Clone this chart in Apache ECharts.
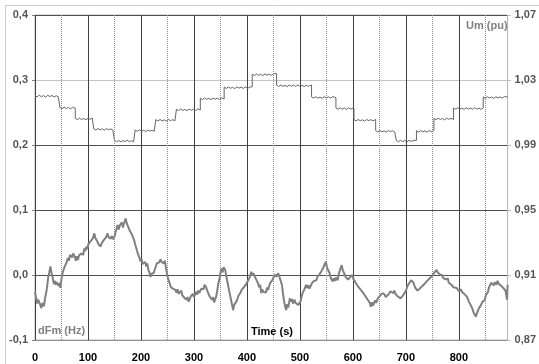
<!DOCTYPE html>
<html>
<head>
<meta charset="utf-8">
<script src="https://cdn.jsdelivr.net/npm/echarts@6/dist/echarts.min.js"></script>
<style>html,body{margin:0;padding:0;background:#fff}#c{width:539px;height:364px}</style>
</head>
<body>
<div id="c"></div>
<script>
// ---- data ----
var leftTickLabels = ['-0,1','0,0','0,1','0,2','0,3','0,4'];
var rightTickLabels = ['0,87','0,91','0,95','0,99','1,03','1,07'];
var dottedTimes = [50,150,250,350,450,550,650,750,850];

// Um (pu), right axis
var umData = [
[0,1.0205],[4,1.0196],[8,1.0207],[12,1.0197],[16,1.0204],[20,1.0194],[24,1.0206],[28,1.0198],[32,1.0205],[36,1.0195],[40,1.0203],[44,1.0197],[47,1.0204],
[47,1.0132],[51,1.0123],[55,1.0133],[59,1.0125],[63,1.0131],[67,1.0122],[71,1.0132],[76,1.0126],
[76,1.0064],[80,1.0056],[84,1.0065],[88,1.0057],[92,1.0063],[96,1.0055],[100,1.0064],[104,1.0058],[108,1.0066],[111,1.0057],
[111,1.0000],[115,0.9992],[119,1.0002],[123,0.9993],[127,1.0000],[131,0.9991],[135,1.0001],[139,0.9994],[143,0.9999],[147,0.9991],[150,0.9998],
[150,0.9929],[154,0.9920],[158,0.9928],[162,0.9919],[166,0.9927],[170,0.9921],[174,0.9930],[178,0.9920],[182,0.9927],[186,0.9919],[189,0.9928],
[189,0.9992],[193,0.9984],[197,0.9993],[201,0.9985],[205,0.9991],[209,0.9983],[213,0.9992],[217,0.9985],[221,0.9991],[225,0.9984],[228,0.9992],
[228,1.0056],[232,1.0048],[236,1.0057],[240,1.0049],[244,1.0055],[248,1.0047],[252,1.0057],[256,1.0050],[260,1.0056],[264,1.0048],[267,1.0058],
[267,1.0120],[271,1.0112],[275,1.0121],[279,1.0113],[283,1.0119],[287,1.0111],[291,1.0121],[295,1.0114],[299,1.0120],[303,1.0112],[307,1.0122],[312,1.0115],
[312,1.0188],[316,1.0180],[320,1.0189],[324,1.0181],[328,1.0187],[332,1.0179],[336,1.0189],[340,1.0182],[344,1.0188],[348,1.0180],[352,1.0190],[357,1.0183],
[357,1.0256],[361,1.0248],[365,1.0257],[369,1.0249],[373,1.0255],[377,1.0247],[381,1.0257],[385,1.0250],[389,1.0256],[393,1.0248],[397,1.0258],[401,1.0249],[405,1.0255],[410,1.0259],
[410,1.0336],[414,1.0328],[418,1.0337],[422,1.0329],[426,1.0335],[430,1.0327],[434,1.0337],[438,1.0330],[442,1.0336],[446,1.0328],[450,1.0338],[453,1.0329],[456,1.0340],
[456,1.0268],[460,1.0260],[464,1.0269],[468,1.0261],[472,1.0267],[476,1.0259],[480,1.0269],[484,1.0262],[488,1.0268],[492,1.0260],[496,1.0270],[500,1.0261],[504,1.0267],[508,1.0259],[512,1.0268],[516,1.0261],[522,1.0269],
[522,1.0196],[526,1.0188],[530,1.0197],[534,1.0189],[538,1.0195],[542,1.0187],[546,1.0197],[550,1.0190],[554,1.0196],[558,1.0188],[562,1.0198],[568,1.0191],
[568,1.0128],[572,1.0120],[576,1.0129],[580,1.0121],[584,1.0127],[588,1.0119],[592,1.0129],[596,1.0122],[602,1.0128],
[602,1.0056],[606,1.0048],[610,1.0057],[614,1.0049],[618,1.0055],[622,1.0047],[626,1.0057],[630,1.0050],[634,1.0056],[638,1.0048],[643,1.0057],
[643,0.9988],[647,0.9980],[651,0.9989],[655,0.9981],[659,0.9987],[663,0.9979],[667,0.9989],[671,0.9982],[675,0.9988],[679,0.9980],[682,0.9989],
[682,0.9928],[686,0.9920],[690,0.9929],[694,0.9921],[698,0.9927],[702,0.9919],[706,0.9929],[710,0.9922],[714,0.9928],[717,0.9920],[720,0.9929],
[720,0.9988],[724,0.9980],[728,0.9989],[732,0.9981],[736,0.9987],[740,0.9979],[744,0.9989],[748,0.9982],[753,0.9988],
[753,1.0064],[757,1.0056],[761,1.0065],[765,1.0057],[769,1.0063],[773,1.0055],[777,1.0065],[781,1.0058],[785,1.0064],[790,1.0057],
[790,1.0128],[794,1.0120],[798,1.0129],[802,1.0121],[806,1.0127],[810,1.0119],[814,1.0129],[818,1.0122],[822,1.0128],[826,1.0120],[830,1.0130],[834,1.0121],[838,1.0127],[842,1.0119],[846,1.0128],
[846,1.0196],[850,1.0188],[854,1.0197],[858,1.0189],[862,1.0195],[866,1.0187],[870,1.0197],[874,1.0190],[878,1.0196],[882,1.0188],[886,1.0198],[889,1.0189],[892,1.0195]
];

// dFm (Hz), left axis
var dfmData = [
[0,-0.026],[2,-0.034],[4,-0.044],[6,-0.038],[8,-0.036],[10,-0.046],[12,-0.051],[14,-0.043],[17,-0.048],[19,-0.036],
[22,-0.023],[24,-0.010],[25,-0.003],[27,0.004],[29,0.013],[31,0.004],[33,-0.002],[34,-0.008],[36,-0.014],[38,-0.009],
[39,-0.015],[41,-0.011],[43,-0.010],[45,-0.017],[47,-0.012],[48,-0.020],[50,-0.006],[52,0.003],[54,0.008],[56,0.013],
[58,0.010],[60,0.020],[62,0.026],[64,0.022],[66,0.031],[68,0.034],[70,0.027],[72,0.033],[75,0.028],[77,0.022],
[79,0.029],[81,0.023],[83,0.030],[85,0.027],[87,0.033],[89,0.036],[91,0.031],[93,0.041],[95,0.037],[97,0.044],
[99,0.040],[101,0.048],[103,0.045],[105,0.052],[107,0.049],[109,0.056],[111,0.058],[112,0.064],[114,0.057],[116,0.055],
[118,0.051],[120,0.047],[122,0.050],[124,0.044],[126,0.049],[128,0.047],[130,0.054],[132,0.051],[134,0.058],[137,0.064],
[139,0.058],[141,0.061],[143,0.056],[145,0.060],[147,0.055],[150,0.059],[152,0.066],[154,0.071],[156,0.077],[158,0.070],
[160,0.076],[162,0.074],[164,0.081],[166,0.073],[167,0.077],[169,0.082],[171,0.087],[173,0.080],[175,0.076],[177,0.074],
[179,0.068],[181,0.069],[183,0.062],[185,0.058],[187,0.054],[189,0.047],[191,0.042],[193,0.036],[195,0.031],[197,0.027],
[199,0.021],[201,0.025],[203,0.017],[206,0.015],[208,0.020],[210,0.013],[212,0.018],[214,0.008],[216,0.004],[218,-0.003],
[220,0.002],[222,-0.001],[224,0.003],[226,0.008],[228,0.013],[230,0.018],[232,0.021],[234,0.019],[237,0.024],[239,0.020],
[241,0.023],[243,0.018],[245,0.022],[247,0.012],[248,0.010],[250,-0.002],[252,-0.008],[254,-0.012],[256,-0.018],[258,-0.015],
[260,-0.021],[263,-0.019],[265,-0.023],[267,-0.027],[269,-0.022],[271,-0.029],[274,-0.028],[276,-0.024],[278,-0.031],[280,-0.028],
[282,-0.035],[284,-0.033],[286,-0.038],[288,-0.034],[290,-0.041],[292,-0.037],[294,-0.033],[296,-0.036],[298,-0.029],[300,-0.034],
[302,-0.031],[304,-0.026],[306,-0.030],[308,-0.024],[310,-0.028],[312,-0.026],[314,-0.021],[316,-0.018],[318,-0.022],[320,-0.015],
[321,-0.013],[323,-0.019],[325,-0.024],[327,-0.028],[329,-0.032],[331,-0.029],[334,-0.038],[336,-0.034],[338,-0.042],[340,-0.044],
[342,-0.033],[344,-0.024],[346,-0.013],[348,-0.007],[350,0.003],[352,0.010],[354,0.004],[356,0.012],[359,0.008],[361,-0.002],
[363,-0.010],[365,-0.018],[367,-0.026],[369,-0.034],[371,-0.042],[373,-0.050],[374,-0.054],[376,-0.046],[378,-0.049],[380,-0.041],
[382,-0.037],[384,-0.032],[386,-0.034],[388,-0.027],[390,-0.023],[392,-0.026],[394,-0.019],[396,-0.021],[398,-0.015],[400,-0.013],
[402,-0.009],[404,-0.011],[406,-0.002],[408,0.005],[410,-0.001],[412,0.003],[415,0.000],[417,-0.006],[419,-0.004],[421,-0.013],
[423,-0.019],[425,-0.015],[427,-0.028],[429,-0.022],[431,-0.026],[434,-0.023],[436,-0.027],[438,-0.019],[440,-0.023],[442,-0.017],
[444,-0.012],[446,-0.015],[448,-0.008],[450,-0.004],[452,-0.007],[454,0.001],[456,-0.003],[459,0.003],[461,-0.002],[464,-0.003],
[466,-0.015],[468,-0.028],[470,-0.040],[472,-0.048],[474,-0.054],[476,-0.045],[478,-0.050],[481,-0.036],[483,-0.041],[485,-0.037],
[487,-0.044],[490,-0.038],[492,-0.043],[494,-0.040],[497,-0.046],[499,-0.049],[501,-0.041],[503,-0.034],[505,-0.028],[507,-0.030],
[509,-0.021],[512,-0.015],[514,-0.020],[516,-0.016],[518,-0.021],[521,-0.018],[523,-0.012],[525,-0.015],[527,-0.009],[529,-0.012],
[531,-0.008],[533,-0.003],[535,-0.006],[537,0.001],[540,0.005],[542,0.003],[544,0.011],[546,0.015],[549,0.0205],[551,0.012],
[553,0.008],[556,0.003],[558,-0.004],[560,-0.001],[562,-0.010],[564,-0.005],[566,-0.009],[568,-0.004],[571,-0.008],[573,0.000],
[575,0.006],[577,0.011],[579,0.015],[581,0.007],[583,0.004],[585,0.000],[587,-0.004],[589,-0.002],[591,-0.007],[593,-0.008],
[595,-0.003],[597,-0.005],[599,0.000],[601,-0.006],[603,-0.009],[606,-0.013],[608,-0.011],[610,-0.018],[612,-0.016],[615,-0.023],
[617,-0.021],[619,-0.027],[621,-0.025],[624,-0.033],[626,-0.031],[628,-0.038],[630,-0.036],[632,-0.043],[634,-0.049],[636,-0.042],
[638,-0.047],[640,-0.044],[642,-0.039],[644,-0.043],[647,-0.036],[649,-0.038],[651,-0.032],[653,-0.035],[656,-0.028],[658,-0.031],
[660,-0.030],[662,-0.034],[665,-0.036],[667,-0.030],[669,-0.032],[671,-0.025],[674,-0.023],[676,-0.028],[678,-0.024],[681,-0.030],
[683,-0.028],[685,-0.033],[688,-0.031],[690,-0.036],[693,-0.038],[695,-0.031],[697,-0.033],[699,-0.026],[701,-0.022],[703,-0.017],
[706,-0.013],[708,-0.015],[710,-0.008],[712,-0.005],[714,-0.011],[716,-0.016],[718,-0.020],[720,-0.018],[722,-0.024],[724,-0.026],
[726,-0.021],[728,-0.024],[731,-0.017],[734,-0.018],[736,-0.013],[738,-0.016],[740,-0.009],[743,-0.010],[745,-0.005],[747,-0.007],
[750,-0.001],[752,0.000],[754,0.004],[756,0.002],[758,0.008],[760,0.004],[762,0.006],[764,0.001],[766,0.003],[768,0.000],
[770,-0.004],[772,-0.002],[775,-0.007],[777,-0.008],[779,-0.005],[781,-0.012],[784,-0.010],[786,-0.015],[788,-0.012],[790,-0.019],
[793,-0.016],[796,-0.020],[798,-0.018],[800,-0.025],[802,-0.028],[804,-0.022],[806,-0.026],[808,-0.023],[810,-0.029],[812,-0.027],
[815,-0.033],[817,-0.036],[819,-0.041],[821,-0.044],[824,-0.049],[826,-0.053],[828,-0.058],[830,-0.061],[832,-0.064],[834,-0.059],
[836,-0.056],[838,-0.051],[840,-0.054],[842,-0.046],[844,-0.042],[847,-0.039],[849,-0.038],[851,-0.031],[853,-0.029],[855,-0.026],
[857,-0.019],[859,-0.016],[861,-0.012],[864,-0.010],[866,-0.016],[868,-0.011],[871,-0.015],[873,-0.009],[875,-0.013],[877,-0.010],
[879,-0.016],[882,-0.013],[884,-0.020],[886,-0.017],[888,-0.024],[890,-0.026],[891,-0.038],[892,-0.015]
];

// ---- chart ----
var FONT = "'Liberation Sans', Arial, sans-serif";
var chart = echarts.init(document.getElementById('c'), null, {renderer: 'canvas'});
chart.setOption({
  animation: false,
  backgroundColor: '#ffffff',
  grid: {left: 35, right: 27, top: 15, bottom: 24, show: true, borderColor: '#b8b8b8', borderWidth: 1},
  xAxis: {
    type: 'value', min: 0, max: 892, interval: 100,
    axisLine: {show: false},
    axisTick: {show: false},
    axisLabel: {
      margin: 12, color: '#000', fontFamily: FONT, fontWeight: 'bold', fontSize: 11,
      formatter: function (v) { return v % 100 === 0 ? String(v) : ''; }
    },
    splitLine: {show: true, lineStyle: {color: ['#404040','#404040','#404040','#404040','#404040','#404040','#404040','#404040','#404040','#b8b8b8'], width: 1}}
  },
  yAxis: [
    {
      type: 'value', min: -0.1, max: 0.4, interval: 0.1, position: 'left',
      axisLine: {show: false},
      axisTick: {show: true, length: 3, lineStyle: {color: '#808080'}},
      axisLabel: {
        margin: 7, color: '#555', fontFamily: FONT, fontWeight: 'bold', fontSize: 11,
        formatter: function (v) { return leftTickLabels[Math.round((v + 0.1) / 0.1)]; }
      },
      splitLine: {show: true, lineStyle: {color: ['#909090','#505050','#505050','#505050','#c4c4c4','#505050'], width: 1}}
    },
    {
      type: 'value', min: -0.1, max: 0.4, interval: 0.1, position: 'right',
      axisLine: {show: false},
      axisTick: {show: true, length: 3, lineStyle: {color: '#b0b0b0'}},
      axisLabel: {
        margin: 7, color: '#555', fontFamily: FONT, fontWeight: 'bold', fontSize: 11,
        formatter: function (v) { return rightTickLabels[Math.round((v + 0.1) / 0.1)]; }
      },
      splitLine: {show: false}
    },
    {
      type: 'value', min: 0.87, max: 1.07, show: false,
      splitLine: {show: false}
    }
  ],
  graphic: [
    {type: 'rect', silent: true, z: -10, shape: {x: 5.5, y: 5.5, width: 700, height: 500}, style: {fill: 'none', stroke: '#cfcfcf', lineWidth: 1}},
    {type: 'text', left: 466, top: 20, z: 100, style: {text: 'Um (pu)', fill: '#808080', font: "bold 11px " + FONT}},
    {type: 'text', left: 38, top: 325, z: 100, style: {text: 'dFm (Hz)', fill: '#808080', font: "bold 11px " + FONT}},
    {type: 'text', left: 251, top: 326, z: 100, style: {text: 'Time (s)', fill: '#000', font: "bold 11px " + FONT}}
  ],
  series: [
    {
      name: 'Um', type: 'line', yAxisIndex: 2, data: umData, showSymbol: false, symbol: 'none',
      lineStyle: {color: '#666666', width: 1}, z: 3,
      markLine: {
        silent: true, symbol: 'none', label: {show: false},
        lineStyle: {color: '#8a8a8a', type: 'dotted', width: 1},
        data: dottedTimes.map(function (t) { return {xAxis: t}; })
      }
    },
    {
      name: 'dFm', type: 'line', yAxisIndex: 0, data: dfmData, showSymbol: false, symbol: 'none',
      lineStyle: {color: '#808080', width: 2}, z: 4
    }
  ]
});
</script>
</body>
</html>
